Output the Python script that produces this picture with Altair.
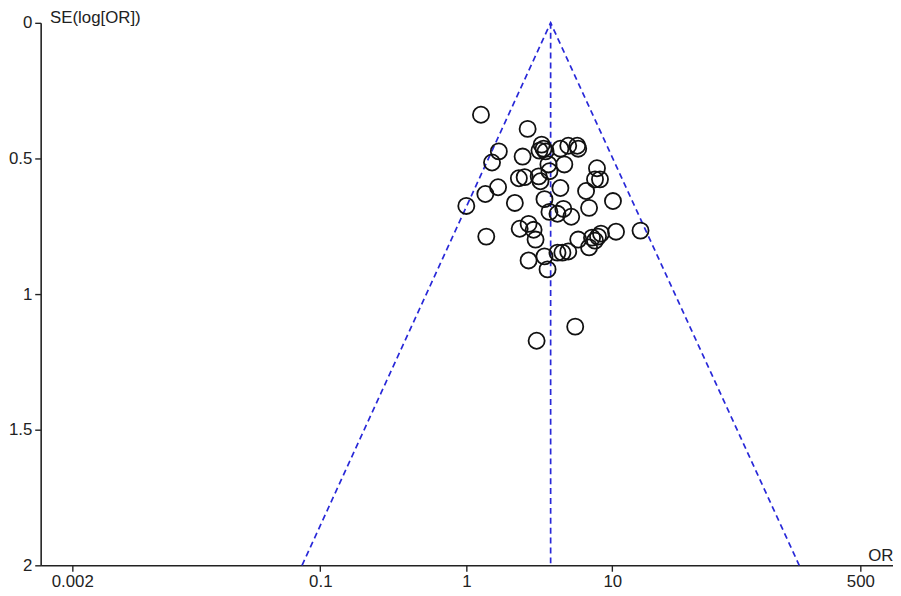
import altair as alt
import pandas as pd

# Study estimates (odds ratio, standard error of log OR)
odds_ratio = [1.26, 2.63, 3.28, 3.38, 3.49, 3.17, 4.41, 4.99, 5.75, 5.84,
              1.67, 1.50, 2.43, 3.65, 4.69, 3.71, 3.13, 3.22, 2.29, 2.51,
              7.85, 7.61, 8.23, 6.61, 4.41, 1.65, 1.35, 2.15, 3.43, 10.1,
              1.00, 3.71, 4.62, 5.23, 4.21, 6.93, 2.67, 2.89, 2.98, 2.32,
              1.37, 5.84, 6.93, 7.26, 7.61, 7.98, 8.36, 10.6, 15.6, 4.21,
              4.55, 4.99, 2.67, 3.43, 3.60, 5.57, 3.03]
se_log_or = [0.339, 0.391, 0.449, 0.464, 0.474, 0.471, 0.464, 0.453, 0.453, 0.464,
             0.474, 0.515, 0.493, 0.522, 0.522, 0.547, 0.566, 0.584, 0.573, 0.569,
             0.536, 0.577, 0.577, 0.620, 0.609, 0.606, 0.631, 0.664, 0.650, 0.657,
             0.675, 0.697, 0.686, 0.715, 0.704, 0.682, 0.741, 0.763, 0.799, 0.759,
             0.788, 0.799, 0.828, 0.792, 0.803, 0.788, 0.777, 0.770, 0.766, 0.847,
             0.847, 0.843, 0.876, 0.861, 0.909, 1.120, 1.172]

# Funnel (pseudo 95% confidence limits) and pooled estimate line
funnel_or = [0.075, 3.78, 190.5]
funnel_se = [2.0, 0.0, 2.0]
center_or = [3.78, 3.78]
center_se = [0.0, 2.0]

x_ticks = [0.002, 0.1, 1, 10, 500]
y_ticks = [0, 0.5, 1, 1.5, 2]

pts = pd.DataFrame({"OR": odds_ratio, "SE": se_log_or})
funnel = pd.DataFrame({"OR": funnel_or, "SE": funnel_se, "i": list(range(len(funnel_or)))})
center = pd.DataFrame({"OR": center_or, "SE": center_se, "i": list(range(len(center_or)))})

BLUE = "#2828d8"
FONT = "Liberation Sans"

xscale = alt.Scale(type="log", domain=[0.001216, 836], nice=False)
yscale = alt.Scale(domain=[0, 2], reverse=True, nice=False, zero=False)

xaxis = alt.Axis(values=x_ticks, format="~g", title="OR", grid=False,
                 titleAngle=0, titleAlign="right", titleBaseline="alphabetic",
                 titleX=861, titleY=-5, titleFontWeight="normal",
                 titleFontSize=17, titleFont=FONT, titleColor="#222",
                 labelFontSize=17, labelFont=FONT, labelColor="#222",
                 tickSize=6, tickColor="#222", domainColor="#222", domainWidth=1.6,
                 tickWidth=1.4, labelPadding=2, labelFlush=False)
yaxis = alt.Axis(values=y_ticks, format="~g", title="SE(log[OR])", grid=False,
                 titleAngle=0, titleAlign="left", titleBaseline="bottom",
                 titleX=9, titleY=4, titleFontWeight="normal",
                 titleFontSize=17, titleFont=FONT, titleColor="#222",
                 labelFontSize=17, labelFont=FONT, labelColor="#222",
                 tickSize=6, tickColor="#222", domainColor="#222", domainWidth=1.6,
                 tickWidth=1.4, labelPadding=3, labelFlush=False)

funnel_layer = alt.Chart(funnel).mark_line(
    color=BLUE, strokeDash=[6, 4], strokeWidth=1.7
).encode(
    x=alt.X("OR:Q", scale=xscale, axis=xaxis),
    y=alt.Y("SE:Q", scale=yscale, axis=yaxis),
    order="i:Q",
)

center_layer = alt.Chart(center).mark_line(
    color=BLUE, strokeDash=[6, 4], strokeWidth=1.7
).encode(
    x=alt.X("OR:Q", scale=xscale, axis=xaxis),
    y=alt.Y("SE:Q", scale=yscale, axis=yaxis),
    order="i:Q",
)

points_layer = alt.Chart(pts).mark_point(
    shape="circle", filled=False, size=265, strokeWidth=1.8, color="#111", opacity=1
).encode(
    x=alt.X("OR:Q", scale=xscale, axis=xaxis),
    y=alt.Y("SE:Q", scale=yscale, axis=yaxis),
)

chart = alt.layer(funnel_layer, center_layer, points_layer).properties(
    width=861, height=548,
    autosize=alt.AutoSizeParams(type="none"),
    padding={"left": 33, "top": 12, "right": 0, "bottom": 28},
    background="white",
).configure_view(stroke=None)

chart.save("out.html", embed_options={"renderer": "svg", "actions": False})
